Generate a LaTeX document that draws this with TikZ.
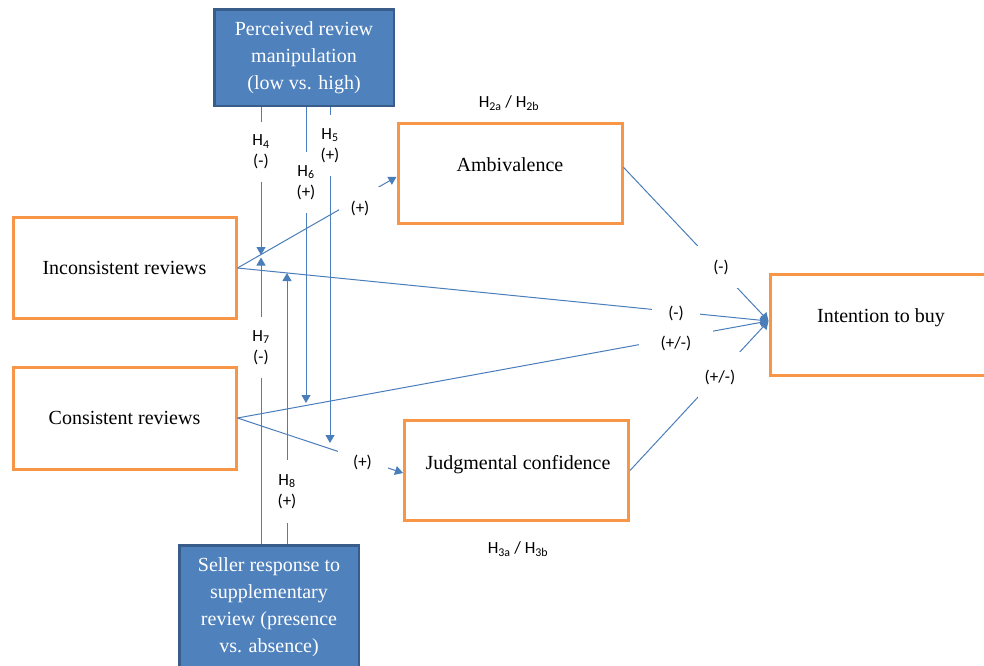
\documentclass[tikz,border=0pt]{standalone}
\usepackage{fontspec}
\setmainfont{Liberation Serif}
\newfontfamily\calib{Carlito}
\usetikzlibrary{arrows.meta}
\definecolor{orng}{HTML}{F79646}
\definecolor{bfill}{HTML}{4F81BD}
\definecolor{bline}{HTML}{385D8A}
\definecolor{conncol}{HTML}{4A7EBB}
\begin{document}
\begin{tikzpicture}[x=1pt,y=-1pt,
 obox/.style={draw=orng,line width=3pt,fill=white,inner sep=0pt,font=\fontsize{20}{27}\selectfont},
 bbox/.style={draw=bline,line width=2.5pt,fill=bfill,text=white,inner sep=0pt,align=center,font=\fontsize{20}{27}\selectfont},
 btext/.style={font=\fontsize{20}{27}\selectfont,anchor=base,inner sep=0pt},
 link/.style={draw=conncol,line width=1pt},
 arr/.style={link,-{Triangle[length=8pt,width=9pt]}},
 hlab/.style={fill=white,inner xsep=1pt,inner ysep=0pt,align=center,font=\calib\fontsize{17}{21}\selectfont},
 slab/.style={fill=white,inner xsep=0pt,inner ysep=0pt,anchor=base,font=\calib\fontsize{17}{21}\selectfont},
 hyp/.style={inner sep=0pt,font=\calib\fontsize{17}{21}\selectfont},
]
\clip (0,0) rectangle (984,665);
\fill[white] (0,0) rectangle (984,665);

% boxes
\node[bbox,minimum width=179.5pt,minimum height=96.5pt] (perc) at (304,57.5) {Perceived review\\manipulation\\(low vs. high)};
\node[bbox,minimum width=179.5pt,minimum height=124pt] (seller) at (269,607.25) {Seller response to\\supplementary\\review (presence\\vs. absence)};
\node[obox,minimum width=223pt,minimum height=101.5pt] (incons) at (124.5,268) {Inconsistent reviews};
\node[obox,minimum width=223pt,minimum height=102pt] (cons) at (124.5,418) {Consistent reviews};
\node[obox,minimum width=224pt,minimum height=100pt] (amb) at (510,173.3) {};
\node[obox,minimum width=224pt,minimum height=100pt] (judg) at (516.5,470.5) {};
\node[obox,minimum width=224pt,minimum height=101pt] (intent) at (882,325) {};
\node[btext] (ambt) at (510,171) {Ambivalence};
\node[btext] (judgt) at (518,469) {Judgmental confidence};
\node[btext] (intentt) at (881,322) {Intention to buy};

% hypothesis tags
\node[hyp] (h2) at (509,103) {H\textsubscript{2a} / H\textsubscript{2b}};
\node[hyp] (h3) at (518,549) {H\textsubscript{3a} / H\textsubscript{3b}};

% main connectors
\coordinate (tgt) at ([yshift=4pt]intent.west);
\draw[arr] (incons.east) -- ([yshift=-3.5pt]amb.west);
\draw[arr] (incons.east) -- (tgt);
\draw[arr] (cons.east) -- (tgt);
\draw[arr] (cons.east) -- ([yshift=-2.5pt]judg.west);
\draw[arr] ([yshift=6pt]amb.east) -- (tgt);
\draw[arr] (judg.east) -- (tgt);

% moderator connectors
\coordinate (t4) at (261,255);
\coordinate (t7) at (261,257.5);
\coordinate (t8) at (287,273);
\coordinate (t6) at (306,403);
\coordinate (t5) at (330,443);
\draw[arr] (t4 |- perc.south) -- (t4);
\draw[arr] (t6 |- perc.south) -- (t6);
\draw[arr] (t5 |- perc.south) -- (t5);
\draw[arr] (t7 |- seller.north) -- (t7);
\draw[arr] (t8 |- seller.north) -- (t8);

% labels on moderator lines
\node[hlab,minimum height=60pt] (l4) at (261,152) {H\textsubscript{4}\\(-)};
\node[hlab,minimum height=61pt] (l6) at (306,182.5) {H\textsubscript{6}\\(+)};
\node[hlab,minimum height=61pt] (l5) at (330,145.5) {H\textsubscript{5}\\(+)};
\node[hlab,minimum height=61pt] (l7) at (261,347.5) {H\textsubscript{7}\\(-)};
\node[hlab,minimum height=63pt] (l8) at (287,491.5) {H\textsubscript{8}\\(+)};

% labels on main lines
\node[slab,minimum width=42pt,text height=26pt,text depth=2pt] (la) at (360,213) {(+)};
\node[slab,minimum width=48pt,text height=14pt,text depth=2pt] (lb) at (676,318) {(-)};
\node[slab,minimum width=74pt,text height=20pt,text depth=0pt] (lc) at (676,348) {(+/-)};
\node[slab,minimum width=48pt,text height=26pt,text depth=16pt] (ld) at (721,272) {(-)};
\node[slab,minimum width=44pt,text height=30pt,text depth=16pt] (le) at (720,382) {(+/-)};
\node[slab,minimum width=50pt,text height=17pt,text depth=2pt] (lf) at (362.5,467) {(+)};
\end{tikzpicture}
\end{document}
